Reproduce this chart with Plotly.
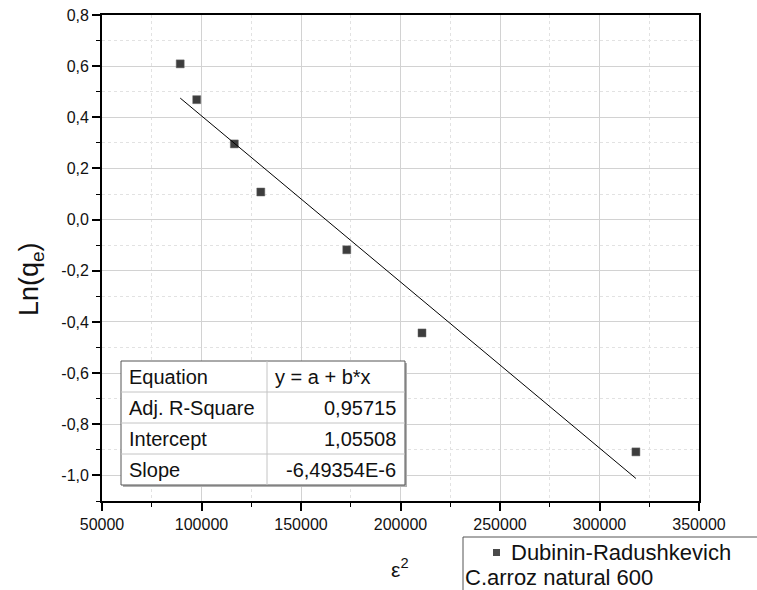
import plotly.graph_objects as go
import numpy as np

# ---- data ----
eps2 = [89300, 97600, 116500, 129800, 173000, 210800, 318300]
ln_qe = [0.609, 0.469, 0.296, 0.108, -0.118, -0.443, -0.908]

intercept = 1.05508
slope = -6.49354e-6

y_tickvals = [-1.0, -0.8, -0.6, -0.4, -0.2, 0.0, 0.2, 0.4, 0.6, 0.8]
y_ticktext = ["-1,0", "-0,8", "-0,6", "-0,4", "-0,2", "0,0", "0,2", "0,4", "0,6", "0,8"]
x_tickvals = [50000, 100000, 150000, 200000, 250000, 300000, 350000]
x_ticktext = ["50000", "100000", "150000", "200000", "250000", "300000", "350000"]

table_rows = [
    ("Equation", "y = a + b*x", "left"),
    ("Adj. R-Square", "0,95715", "right"),
    ("Intercept", "1,05508", "right"),
    ("Slope", "-6,49354E-6", "right"),
]
legend_name = "Dubinin-Radushkevich"
legend_sub = "C.arroz natural 600"

# ---- layout geometry (pixels) ----
W, H = 757, 590
L, R, T, B = 102, 699, 15, 501
FONT = "Liberation Sans, Arial, sans-serif"


def px(x):
    return (x - L) / (R - L)


def py(y):
    return (B - y) / (B - T)


fig = go.Figure()

fig.add_trace(go.Scatter(
    x=eps2, y=ln_qe, mode="markers",
    marker=dict(symbol="square", size=8, color="#3d3d3d",
                line=dict(color="#6a6a6a", width=0.5)),
    showlegend=False, hoverinfo="x+y"))

xf = np.array([min(eps2), max(eps2)])
fig.add_trace(go.Scatter(
    x=xf, y=intercept + slope * xf, mode="lines",
    line=dict(color="#000000", width=1), showlegend=False))

shapes = []
annotations = []

# table
tl, tt, tr, tb, tc = 121, 361, 405, 485, 267
rh = (tb - tt) / 4
shapes.append(dict(type="rect", xref="paper", yref="paper",
                   x0=px(tl + 2), x1=px(tr + 2), y0=py(tb + 2), y1=py(tt + 2),
                   line=dict(width=0), fillcolor="#b0b0b0", layer="above"))
shapes.append(dict(type="rect", xref="paper", yref="paper",
                   x0=px(tl), x1=px(tr), y0=py(tb), y1=py(tt),
                   line=dict(color="#555555", width=1), fillcolor="white", layer="above"))
for i in range(1, 4):
    yy = tt + i * rh
    shapes.append(dict(type="line", xref="paper", yref="paper",
                       x0=px(tl), x1=px(tr), y0=py(yy), y1=py(yy),
                       line=dict(color="#c4c4c4", width=1), layer="above"))
shapes.append(dict(type="line", xref="paper", yref="paper",
                   x0=px(tc), x1=px(tc), y0=py(tb), y1=py(tt),
                   line=dict(color="#c4c4c4", width=1), layer="above"))
TF = 20
for i, (a, b, al) in enumerate(table_rows):
    yc = tt + (i + 0.5) * rh
    annotations.append(dict(x=px(tl + 6), y=py(yc), xref="paper", yref="paper",
                            text=a, showarrow=False, xanchor="left", yanchor="middle",
                            font=dict(family=FONT, size=TF, color="#111")))
    if al == "left":
        annotations.append(dict(x=px(tc + 6), y=py(yc), xref="paper", yref="paper",
                                text=b, showarrow=False, xanchor="left", yanchor="middle",
                                font=dict(family=FONT, size=TF, color="#111")))
    else:
        annotations.append(dict(x=px(tr - 7), y=py(yc), xref="paper", yref="paper",
                                text=b, showarrow=False, xanchor="right", yanchor="middle",
                                font=dict(family=FONT, size=TF, color="#111")))

# legend (drawn manually)
lg_l, lg_t = 463, 537
shapes.append(dict(type="line", xref="paper", yref="paper",
                   x0=px(lg_l), x1=px(W + 5), y0=py(lg_t), y1=py(lg_t),
                   line=dict(color="#555555", width=1)))
shapes.append(dict(type="line", xref="paper", yref="paper",
                   x0=px(lg_l), x1=px(lg_l), y0=py(lg_t), y1=py(H + 5),
                   line=dict(color="#555555", width=1)))
shapes.append(dict(type="rect", xref="paper", yref="paper",
                   x0=px(493), x1=px(500), y0=py(556), y1=py(549),
                   line=dict(width=0), fillcolor="#4a4a4a"))
annotations.append(dict(x=px(509), y=py(552), xref="paper", yref="paper",
                        text=legend_name, showarrow=False, xanchor="left", yanchor="middle",
                        font=dict(family=FONT, size=22, color="#111")))
annotations.append(dict(x=px(463), y=py(577), xref="paper", yref="paper",
                        text=legend_sub, showarrow=False, xanchor="left", yanchor="middle",
                        font=dict(family=FONT, size=22, color="#111")))

# axis titles
annotations.append(dict(x=px(31), y=py(279), xref="paper", yref="paper",
                        text="Ln(q<sub>e</sub>)", showarrow=False, textangle=-90,
                        xanchor="center", yanchor="middle",
                        font=dict(family=FONT, size=27, color="#111")))
annotations.append(dict(x=px(400), y=py(568), xref="paper", yref="paper",
                        text="ε<sup>2</sup>", showarrow=False,
                        xanchor="center", yanchor="middle",
                        font=dict(family=FONT, size=21, color="#111")))

fig.update_layout(
    width=W, height=H,
    margin=dict(l=L, r=W - R, t=T, b=H - B, autoexpand=False),
    paper_bgcolor="white", plot_bgcolor="white",
    font=dict(family=FONT, size=16, color="#111"),
    shapes=shapes, annotations=annotations,
    xaxis=dict(range=[50000, 350000], tickvals=x_tickvals, ticktext=x_ticktext,
               automargin=False,
               ticks="outside", ticklen=8, tickwidth=1.5, tickcolor="#000",
               showline=True, linecolor="#000", linewidth=1.8, mirror=True,
               showgrid=True, gridcolor="#d2d2d2", gridwidth=1, zeroline=False,
               minor=dict(dtick=25000, tick0=50000, ticks="outside", ticklen=4,
                          tickcolor="#000", tickwidth=1.2, showgrid=True,
                          gridcolor="#e2e2e2", griddash="dot", gridwidth=1),
               tickfont=dict(family=FONT, size=16, color="#111")),
    yaxis=dict(range=[-1.1, 0.8], tickvals=y_tickvals, ticktext=y_ticktext,
               automargin=False,
               ticks="outside", ticklen=8, tickwidth=1.5, tickcolor="#000",
               showline=True, linecolor="#000", linewidth=1.8, mirror=True,
               showgrid=True, gridcolor="#d2d2d2", gridwidth=1, zeroline=False,
               minor=dict(dtick=0.1, tick0=0.0, ticks="outside", ticklen=4,
                          tickcolor="#000", tickwidth=1.2, showgrid=True,
                          gridcolor="#e2e2e2", griddash="dot", gridwidth=1),
               tickfont=dict(family=FONT, size=16, color="#111")),
)

fig.write_html("out.html", config={"displayModeBar": False})

# remove the default page margin so the figure sits at the window origin
with open("out.html", "r", encoding="utf-8") as f:
    html = f.read()
html = html.replace("<head>", "<head><style>html,body{margin:0;padding:0;overflow:hidden;}</style>", 1)
with open("out.html", "w", encoding="utf-8") as f:
    f.write(html)
